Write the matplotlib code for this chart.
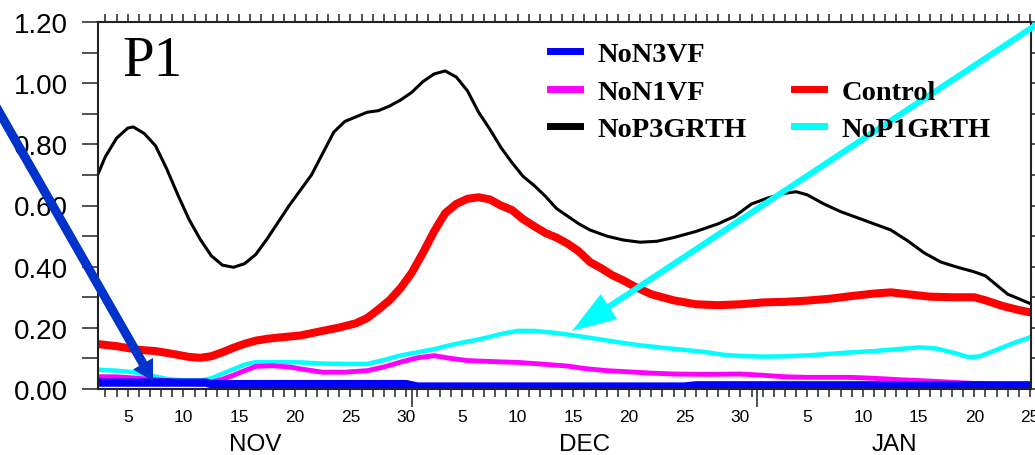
import matplotlib
matplotlib.use("Agg")
import matplotlib.pyplot as plt
from matplotlib.lines import Line2D

# Time axis: day 1 = 1 Nov, day 31 = 1 Dec, day 62 = 1 Jan, day 86 = 25 Jan
x_start, x_end = 2.334, 86.09

tick_days = [5, 10, 15, 20, 25, 30, 35, 40, 45, 50, 55, 60, 66, 71, 76, 81, 86]
tick_labels = ["5", "10", "15", "20", "25", "30",
               "5", "10", "15", "20", "25", "30",
               "5", "10", "15", "20", "25"]
months = ["NOV", "DEC", "JAN"]
month_starts = [1, 31, 62]

# NoP3GRTH (black)
black_days = [2.3, 3.0, 4.0, 5.0, 5.5, 6.5, 7.5, 8.5, 9.5, 10.5, 11.5, 12.5, 13.5,
              14.5, 15.5, 16.5, 17.5, 18.5, 19.5, 20.5, 21.5, 22.5, 23.5, 24.5,
              25.5, 26.5, 27.5, 28.5, 29.5, 30.5, 31.5, 32.5, 33.5, 34.5, 35.5,
              36.5, 37.5, 38.5, 39.5, 40.5, 41.5, 42.5, 43.5, 44.5, 45.5, 46.5,
              48, 49.5, 51, 52.5, 54, 56, 58, 59.5, 61, 62.5, 64, 65, 66, 67.5,
              69, 70.5, 72, 73.5, 75, 76.5, 78, 79.5, 81, 82, 83, 84, 85, 86.1]
black_vals = [0.70, 0.76, 0.82, 0.853, 0.857, 0.835, 0.795, 0.72, 0.635, 0.555,
              0.49, 0.436, 0.405, 0.398, 0.41, 0.44, 0.49, 0.545, 0.60, 0.65,
              0.70, 0.77, 0.84, 0.875, 0.89, 0.905, 0.91, 0.925, 0.945, 0.97,
              1.005, 1.03, 1.04, 1.02, 0.975, 0.905, 0.85, 0.79, 0.74, 0.695,
              0.665, 0.63, 0.59, 0.565, 0.54, 0.52, 0.50, 0.487, 0.48, 0.483,
              0.495, 0.515, 0.54, 0.565, 0.605, 0.625, 0.64, 0.645, 0.635, 0.605,
              0.58, 0.56, 0.54, 0.52, 0.485, 0.445, 0.415, 0.398, 0.383, 0.37,
              0.34, 0.31, 0.295, 0.278]

# Control (red)
red_days = [2.3, 4, 6, 7.5, 9, 10.5, 11.5, 12.5, 13.5, 14.5, 15.5, 16.5, 17.5,
            18.5, 20.5, 22.5, 24, 25.5, 26.5, 27.5, 28.5, 29.5, 30.5, 31.5, 32.5,
            33.5, 34.5, 35.5, 36.5, 37.5, 38.5, 39.5, 40.5, 41.5, 42.5, 43.5,
            44.5, 45.5, 46.5, 47.5, 48.5, 49.5, 50.5, 52, 54, 56, 58, 60, 62,
            64, 66, 68, 70, 72, 73.5, 75, 77, 79, 81, 82, 83.5, 85, 86.1]
red_vals = [0.147, 0.14, 0.128, 0.124, 0.115, 0.105, 0.102, 0.107, 0.12, 0.135,
            0.148, 0.158, 0.164, 0.168, 0.175, 0.19, 0.201, 0.215, 0.232, 0.26,
            0.29, 0.33, 0.38, 0.445, 0.515, 0.575, 0.605, 0.622, 0.627, 0.62,
            0.60, 0.585, 0.555, 0.532, 0.51, 0.495, 0.475, 0.45, 0.415, 0.395,
            0.372, 0.355, 0.335, 0.31, 0.29, 0.277, 0.274, 0.277, 0.283, 0.285,
            0.289, 0.295, 0.304, 0.312, 0.316, 0.31, 0.302, 0.30, 0.30, 0.29,
            0.272, 0.258, 0.25]

# NoP1GRTH (cyan)
cyan_days = [2.3, 4, 5.5, 7, 8.5, 10, 11.5, 12.5, 13.5, 14.5, 15.5, 16.5, 18.5,
             20.5, 22.5, 24.5, 26.5, 28, 29.5, 31, 32.5, 34, 35.5, 37, 38.5, 40,
             41.5, 43, 44.5, 46, 47.5, 49, 51, 53, 55, 57, 58.5, 60, 62, 64, 66,
             68, 70, 72, 74, 76, 77.5, 79, 80.5, 81.5, 83, 84.5, 86.1]
cyan_vals = [0.063, 0.06, 0.055, 0.045, 0.033, 0.028, 0.027, 0.035, 0.05, 0.065,
             0.08, 0.088, 0.088, 0.087, 0.083, 0.082, 0.082, 0.095, 0.11, 0.12,
             0.13, 0.144, 0.155, 0.166, 0.18, 0.19, 0.19, 0.185, 0.178, 0.17,
             0.162, 0.153, 0.143, 0.135, 0.128, 0.12, 0.112, 0.108, 0.106, 0.107,
             0.11, 0.115, 0.12, 0.124, 0.13, 0.136, 0.133, 0.12, 0.104, 0.107,
             0.128, 0.15, 0.17]

# NoN1VF (magenta)
mag_days = [2.3, 4, 6, 8.5, 10, 11.5, 12.5, 13.5, 14.5, 15.5, 16.5, 18, 19.5,
            21, 22.5, 24.5, 26.5, 28, 29.5, 31, 32.5, 34, 35.5, 37.5, 40, 42,
            44.5, 46, 48, 50, 52, 54, 57, 60, 62, 64, 66, 70, 72, 74.5, 77, 79,
            81, 84, 86.1]
mag_vals = [0.04, 0.04, 0.035, 0.027, 0.02, 0.016, 0.022, 0.032, 0.045, 0.06,
            0.074, 0.076, 0.072, 0.063, 0.055, 0.055, 0.06, 0.072, 0.088, 0.102,
            0.109, 0.10, 0.093, 0.09, 0.087, 0.082, 0.075, 0.067, 0.06, 0.056,
            0.052, 0.049, 0.048, 0.049, 0.045, 0.04, 0.038, 0.038, 0.035, 0.03,
            0.026, 0.022, 0.018, 0.015, 0.015]

# NoN3VF (blue)
blue_days = [2.3, 12, 12.5, 30, 31, 55, 56, 86.1]
blue_vals = [0.021, 0.021, 0.016, 0.016, 0.008, 0.008, 0.012, 0.012]

plt.rcParams["font.family"] = ["Liberation Sans", "DejaVu Sans"]
frame_col = "#222222"

fig = plt.figure(figsize=(10.35, 4.56), dpi=100)
ax = fig.add_axes([98 / 1035, 66 / 456, 933 / 1035, 367 / 456])

ax.plot(black_days, black_vals, color="black", lw=2.2, solid_capstyle="butt")
ax.plot(red_days, red_vals, color="#ff0000", lw=5.8, solid_capstyle="butt")
ax.plot(cyan_days, cyan_vals, color="#00ffff", lw=3.2, solid_capstyle="butt")
ax.plot(mag_days, mag_vals, color="#ff00ff", lw=3.5, solid_capstyle="butt")
ax.plot(blue_days, blue_vals, color="#0000ff", lw=6.0, solid_capstyle="butt")

ax.set_xlim(x_start, x_end)
ax.set_ylim(0, 1.2)

# y axis: labels every 0.2, ticks every 0.1
ax.set_yticks([i * 0.2 for i in range(7)])
ax.set_yticklabels([f"{i * 0.2:.2f}" for i in range(7)])
ax.set_yticks([i * 0.1 for i in range(1, 12, 2)], minor=True)
ax.tick_params(axis="y", which="both", direction="out", length=11.5, width=1.1,
               pad=10, labelsize=20, right=True, color=frame_col)

# x axis: daily ticks, labelled every five days
ax.set_xticks(tick_days)
ax.set_xticklabels(tick_labels)
ax.set_xticks(range(3, 87), minor=True)
ax.tick_params(axis="x", which="both", direction="out", length=5.8, width=1.1,
               pad=8.4, labelsize=12.5, top=True, color=frame_col)

for sp in ax.spines.values():
    sp.set_linewidth(1.5)
    sp.set_color(frame_col)

# long ticks at the month boundaries
sec = ax.secondary_xaxis("bottom")
sec.set_xticks([s - 0.5 for s in month_starts[1:]])
sec.set_xticklabels([])
sec.tick_params(direction="out", length=13, width=1.1, color=frame_col)
sec.spines["bottom"].set_visible(False)

# month names centred on the visible part of each month
edges = [x_start] + [s - 0.5 for s in month_starts[1:]] + [x_end]
for name, a, b in zip(months, edges[:-1], edges[1:]):
    ax.annotate(name, xy=((a + b) / 2, 0), xycoords=("data", "axes fraction"),
                xytext=(0, -39.5), textcoords="offset points",
                ha="center", va="center", fontsize=17.5)

ax.text(0.0257, 0.856, "P1", transform=ax.transAxes, fontsize=41,
        family="Liberation Serif", va="baseline", ha="left")

# legend in two columns, first slot of the second column left empty
handles = [
    Line2D([], [], color="#0000ff", lw=5),
    Line2D([], [], color="#ff00ff", lw=5),
    Line2D([], [], color="black", lw=5),
    Line2D([], [], alpha=0),
    Line2D([], [], color="#ff0000", lw=5),
    Line2D([], [], color="#00ffff", lw=5),
]
labels = ["NoN3VF", "NoN1VF", "NoP3GRTH", " ", "Control", "NoP1GRTH"]
ax.legend(handles, labels, ncol=2, frameon=False, loc="upper left",
          bbox_to_anchor=(550 / 1035, 1 - 42 / 456), bbox_transform=fig.transFigure,
          borderpad=0, borderaxespad=0, handlelength=1.05, handletextpad=0.62,
          columnspacing=1.66, labelspacing=0.41,
          prop={"family": "Liberation Serif", "weight": "bold", "size": 20.5})

# pointer arrows
ax.annotate("", xy=(7.27, 0.026), xycoords="data",
            xytext=(-10, 456 - 97), textcoords="figure pixels",
            annotation_clip=False,
            arrowprops=dict(arrowstyle="simple,head_length=14.4,head_width=16.6,tail_width=6.5",
                            mutation_scale=1, color="#0033cc", lw=0,
                            shrinkA=0, shrinkB=0))
ax.annotate("", xy=(44.9, 0.19), xycoords="data",
            xytext=(1045, 456 - 20), textcoords="figure pixels",
            annotation_clip=False,
            arrowprops=dict(arrowstyle="simple,head_length=31.7,head_width=21.6,tail_width=4.3",
                            mutation_scale=1, color="#00ffff", lw=0,
                            shrinkA=0, shrinkB=0))

fig.savefig("out.png", dpi=100)
